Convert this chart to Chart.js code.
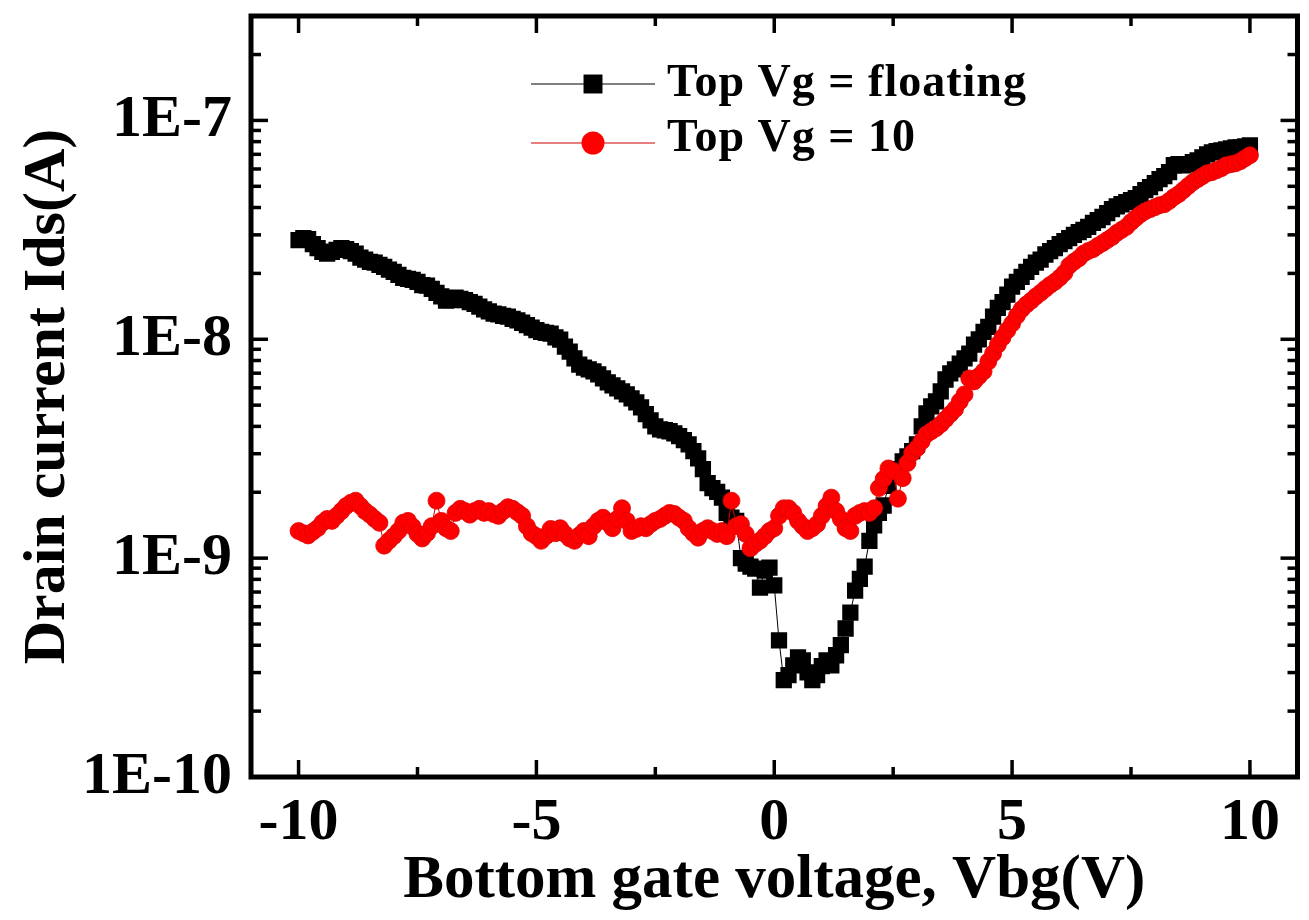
<!DOCTYPE html>
<html>
<head>
<meta charset="utf-8">
<script src="https://cdn.jsdelivr.net/npm/chart.js@4/dist/chart.umd.min.js"></script>
<style>
  html, body { margin: 0; padding: 0; background: #fff; }
  canvas { display: block; }
</style>
</head>
<body>
<canvas id="c" width="1309" height="920"></canvas>
<script>
// Bottom gate sweep (V)
const vbg = [
  -10,-9.9,-9.8,-9.7,-9.6,-9.5,-9.4,-9.3,-9.2,-9.1,
  -9,-8.9,-8.8,-8.7,-8.6,-8.5,-8.4,-8.3,-8.2,-8.1,
  -8,-7.9,-7.8,-7.7,-7.6,-7.5,-7.4,-7.3,-7.2,-7.1,
  -7,-6.9,-6.8,-6.7,-6.6,-6.5,-6.4,-6.3,-6.2,-6.1,
  -6,-5.9,-5.8,-5.7,-5.6,-5.5,-5.4,-5.3,-5.2,-5.1,
  -5,-4.9,-4.8,-4.7,-4.6,-4.5,-4.4,-4.3,-4.2,-4.1,
  -4,-3.9,-3.8,-3.7,-3.6,-3.5,-3.4,-3.3,-3.2,-3.1,
  -3,-2.9,-2.8,-2.7,-2.6,-2.5,-2.4,-2.3,-2.2,-2.1,
  -2,-1.9,-1.8,-1.7,-1.6,-1.5,-1.4,-1.3,-1.2,-1.1,
  -1,-0.9,-0.8,-0.7,-0.6,-0.5,-0.4,-0.3,-0.2,-0.1,
  0,0.1,0.2,0.3,0.4,0.5,0.6,0.7,0.8,0.9,
  1,1.1,1.2,1.3,1.4,1.5,1.6,1.7,1.8,1.9,
  2,2.1,2.2,2.3,2.4,2.5,2.6,2.7,2.8,2.9,
  3,3.1,3.2,3.3,3.4,3.5,3.6,3.7,3.8,3.9,
  4,4.1,4.2,4.3,4.4,4.5,4.6,4.7,4.8,4.9,
  5,5.1,5.2,5.3,5.4,5.5,5.6,5.7,5.8,5.9,
  6,6.1,6.2,6.3,6.4,6.5,6.6,6.7,6.8,6.9,
  7,7.1,7.2,7.3,7.4,7.5,7.6,7.7,7.8,7.9,
  8,8.1,8.2,8.3,8.4,8.5,8.6,8.7,8.8,8.9,
  9,9.1,9.2,9.3,9.4,9.5,9.6,9.7,9.8,9.9,
  10
];

// Drain current (A), top gate left floating
const idsFloating = [
  2.84e-8,2.90e-8,2.87e-8,2.72e-8,2.61e-8,2.51e-8,2.46e-8,2.51e-8,2.56e-8,2.61e-8,
  2.58e-8,2.53e-8,2.46e-8,2.36e-8,2.31e-8,2.26e-8,2.24e-8,2.19e-8,2.14e-8,2.08e-8,
  2.03e-8,1.97e-8,1.91e-8,1.89e-8,1.87e-8,1.83e-8,1.77e-8,1.76e-8,1.70e-8,1.63e-8,
  1.57e-8,1.50e-8,1.51e-8,1.55e-8,1.53e-8,1.51e-8,1.48e-8,1.45e-8,1.41e-8,1.37e-8,
  1.34e-8,1.31e-8,1.30e-8,1.28e-8,1.27e-8,1.24e-8,1.22e-8,1.19e-8,1.16e-8,1.13e-8,
  1.10e-8,1.08e-8,1.07e-8,1.06e-8,1.02e-8,9.97e-9,9.26e-9,8.79e-9,8.17e-9,7.66e-9,
  7.43e-9,7.28e-9,7.13e-9,6.91e-9,6.62e-9,6.35e-9,6.16e-9,5.97e-9,5.78e-9,5.60e-9,
  5.37e-9,5.15e-9,4.89e-9,4.55e-9,4.26e-9,4.00e-9,3.88e-9,3.84e-9,3.80e-9,3.72e-9,
  3.61e-9,3.46e-9,3.31e-9,3.08e-9,2.86e-9,2.55e-9,2.20e-9,2.09e-9,2.01e-9,1.89e-9,
  1.61e-9,1.53e-9,1.48e-9,1.00e-9,9.43e-10,9.15e-10,8.96e-10,7.33e-10,8.77e-10,9.05e-10,
  7.50e-10,4.21e-10,2.77e-10,2.92e-10,3.24e-10,3.52e-10,3.41e-10,3.01e-10,2.77e-10,2.92e-10,
  3.21e-10,3.41e-10,3.24e-10,3.60e-10,4.00e-10,4.77e-10,5.64e-10,7.11e-10,8.05e-10,9.15e-10,
  1.20e-9,1.41e-9,1.61e-9,1.74e-9,2.14e-9,2.38e-9,2.55e-9,2.77e-9,2.92e-9,3.08e-9,
  3.31e-9,4.00e-9,4.59e-9,4.94e-9,5.20e-9,5.78e-9,6.55e-9,6.98e-9,7.28e-9,7.75e-9,
  8.17e-9,8.61e-9,9.45e-9,1.00e-8,1.08e-8,1.14e-8,1.27e-8,1.39e-8,1.48e-8,1.60e-8,
  1.74e-8,1.83e-8,1.93e-8,2.03e-8,2.14e-8,2.24e-8,2.31e-8,2.44e-8,2.53e-8,2.61e-8,
  2.72e-8,2.81e-8,2.90e-8,3.00e-8,3.09e-8,3.16e-8,3.26e-8,3.40e-8,3.50e-8,3.62e-8,
  3.77e-8,3.93e-8,4.05e-8,4.14e-8,4.23e-8,4.32e-8,4.41e-8,4.60e-8,4.80e-8,4.96e-8,
  5.17e-8,5.39e-8,5.56e-8,5.80e-8,6.24e-8,6.31e-8,6.24e-8,6.31e-8,6.44e-8,6.57e-8,
  6.78e-8,6.99e-8,7.15e-8,7.23e-8,7.30e-8,7.38e-8,7.46e-8,7.53e-8,7.53e-8,7.61e-8,
  7.69e-8
];

// Drain current (A), top gate held at 10 V
const idsTopVg10 = [
  1.33e-9,1.30e-9,1.27e-9,1.32e-9,1.37e-9,1.45e-9,1.51e-9,1.48e-9,1.56e-9,1.64e-9,
  1.73e-9,1.79e-9,1.83e-9,1.73e-9,1.64e-9,1.58e-9,1.51e-9,1.45e-9,1.14e-9,1.20e-9,
  1.26e-9,1.33e-9,1.45e-9,1.48e-9,1.39e-9,1.29e-9,1.23e-9,1.30e-9,1.40e-9,1.83e-9,
  1.48e-9,1.37e-9,1.33e-9,1.61e-9,1.68e-9,1.64e-9,1.58e-9,1.64e-9,1.68e-9,1.61e-9,
  1.64e-9,1.59e-9,1.56e-9,1.64e-9,1.71e-9,1.68e-9,1.62e-9,1.56e-9,1.40e-9,1.30e-9,
  1.26e-9,1.20e-9,1.26e-9,1.36e-9,1.30e-9,1.37e-9,1.29e-9,1.23e-9,1.20e-9,1.27e-9,
  1.33e-9,1.26e-9,1.40e-9,1.48e-9,1.53e-9,1.45e-9,1.37e-9,1.51e-9,1.69e-9,1.48e-9,
  1.33e-9,1.36e-9,1.40e-9,1.37e-9,1.43e-9,1.48e-9,1.51e-9,1.56e-9,1.61e-9,1.59e-9,
  1.53e-9,1.48e-9,1.37e-9,1.30e-9,1.24e-9,1.33e-9,1.37e-9,1.33e-9,1.29e-9,1.33e-9,
  1.26e-9,1.83e-9,1.40e-9,1.43e-9,1.29e-9,1.11e-9,1.16e-9,1.20e-9,1.26e-9,1.33e-9,
  1.37e-9,1.56e-9,1.69e-9,1.69e-9,1.61e-9,1.48e-9,1.40e-9,1.33e-9,1.37e-9,1.43e-9,
  1.56e-9,1.73e-9,1.89e-9,1.64e-9,1.51e-9,1.37e-9,1.33e-9,1.56e-9,1.61e-9,1.64e-9,
  1.61e-9,1.69e-9,2.09e-9,2.30e-9,2.57e-9,2.50e-9,1.87e-9,2.32e-9,2.72e-9,3.02e-9,
  3.18e-9,3.42e-9,3.68e-9,3.80e-9,3.92e-9,4.09e-9,4.31e-9,4.55e-9,4.79e-9,5.20e-9,
  5.60e-9,6.62e-9,6.42e-9,6.77e-9,7.13e-9,7.91e-9,8.61e-9,9.45e-9,1.02e-8,1.10e-8,
  1.18e-8,1.28e-8,1.37e-8,1.44e-8,1.50e-8,1.57e-8,1.63e-8,1.70e-8,1.77e-8,1.83e-8,
  1.91e-8,2.01e-8,2.17e-8,2.26e-8,2.34e-8,2.46e-8,2.53e-8,2.58e-8,2.67e-8,2.75e-8,
  2.84e-8,2.93e-8,3.06e-8,3.16e-8,3.26e-8,3.43e-8,3.58e-8,3.73e-8,3.85e-8,3.93e-8,
  4.01e-8,4.10e-8,4.14e-8,4.28e-8,4.46e-8,4.60e-8,4.80e-8,5.01e-8,5.22e-8,5.39e-8,
  5.56e-8,5.74e-8,5.80e-8,5.92e-8,6.05e-8,6.24e-8,6.31e-8,6.37e-8,6.51e-8,6.72e-8,
  6.93e-8
];

const seriesLabels = ['Top Vg = floating', 'Top Vg = 10'];

// Axis ticks
const xTickValues = [-10, -5, 0, 5, 10];
const xMinorValues = [-7.5, -2.5, 2.5, 7.5];
const yTickValues = [1e-10, 1e-9, 1e-8, 1e-7];
const yTickLabels = ['1E-10', '1E-9', '1E-8', '1E-7'];

const FONT = "'Liberation Serif', 'Times New Roman', serif";

// minor log ticks 2..9 in every decade up to the top of the axis
const yMinorValues = [];
for (const d of yTickValues) {
  for (let m = 2; m <= 9; m++) {
    const v = +(m * d).toPrecision(3);
    if (v <= 3e-7) yMinorValues.push(v);
  }
}

const toPoints = ys => vbg.map((x, i) => ({ x, y: ys[i] }));

// Boxed frame with inward ticks on all four sides
const framePlugin = {
  id: 'frame',
  afterDatasetsDraw(chart) {
    const { ctx, chartArea: a, scales: { x, y } } = chart;
    ctx.save();
    ctx.strokeStyle = '#000';
    ctx.lineCap = 'butt';
    const seg = (x1, y1, x2, y2) => { ctx.beginPath(); ctx.moveTo(x1, y1); ctx.lineTo(x2, y2); ctx.stroke(); };
    ctx.lineWidth = 3.5;
    const MAJ = 17, MIN = 10;
    xTickValues.forEach(v => { const p = x.getPixelForValue(v); seg(p, a.bottom, p, a.bottom - MAJ); seg(p, a.top, p, a.top + MAJ); });
    xMinorValues.forEach(v => { const p = x.getPixelForValue(v); seg(p, a.bottom, p, a.bottom - MIN); seg(p, a.top, p, a.top + MIN); });
    yTickValues.forEach(v => { const p = y.getPixelForValue(v); seg(a.left, p, a.left + MAJ, p); seg(a.right, p, a.right - MAJ, p); });
    yMinorValues.forEach(v => { const p = y.getPixelForValue(v); seg(a.left, p, a.left + MIN, p); seg(a.right, p, a.right - MIN, p); });
    ctx.lineWidth = 5;
    ctx.strokeRect(a.left, a.top, a.right - a.left, a.bottom - a.top);
    ctx.restore();
  }
};

// Legend inside the plot: line + marker + label for each series
const legendPlugin = {
  id: 'innerLegend',
  afterDraw(chart) {
    const ctx = chart.ctx;
    const rows = [
      { y: 84, ty: 84, r: 13.4 },
      { y: 143, ty: 139, r: 11.5 }
    ];
    ctx.save();
    ctx.font = 'bold 46px ' + FONT;
    ctx.letterSpacing = '0px';
    const w0 = ctx.measureText(seriesLabels[0]).width;
    const spacing = Math.max(0, (360 - w0) / seriesLabels[0].length);
    chart.data.datasets.forEach((ds, i) => {
      const row = rows[i];
      ctx.strokeStyle = ds.borderColor;
      ctx.lineWidth = 1.2;
      ctx.beginPath(); ctx.moveTo(531, row.y); ctx.lineTo(655, row.y); ctx.stroke();
      ctx.fillStyle = ds.pointBackgroundColor;
      ctx.strokeStyle = ds.pointBackgroundColor;
      Chart.helpers.drawPoint(ctx, { pointStyle: ds.pointStyle, radius: row.r, borderWidth: 0, rotation: 0 }, 593, row.y);
      ctx.fillStyle = '#000';
      ctx.textAlign = 'left';
      ctx.textBaseline = 'middle';
      ctx.letterSpacing = spacing.toFixed(2) + 'px';
      ctx.fillText(seriesLabels[i], 667, row.ty);
    });
    ctx.restore();
  }
};

// keep the plot box fixed: no extra room for half-labels at the ends of the axes
const noOverhang = s => { s.paddingTop = 0; s.paddingBottom = 0; s.paddingLeft = 0; s.paddingRight = 0; };

new Chart(document.getElementById('c'), {
  type: 'scatter',
  data: {
    datasets: [
      {
        label: seriesLabels[0],
        data: toPoints(idsFloating),
        showLine: true,
        borderColor: '#000',
        borderWidth: 1,
        pointStyle: 'rect',
        pointRadius: 11.5,
        pointBackgroundColor: '#000',
        pointBorderWidth: 0,
        order: 2
      },
      {
        label: seriesLabels[1],
        data: toPoints(idsTopVg10),
        showLine: true,
        borderColor: '#d00000',
        borderWidth: 1,
        pointStyle: 'circle',
        pointRadius: 8.5,
        pointBackgroundColor: '#ff0000',
        pointBorderColor: '#e00000',
        pointBorderWidth: 0.8,
        order: 1
      }
    ]
  },
  options: {
    responsive: false,
    animation: false,
    layout: { padding: { top: 16, right: 6, left: 0, bottom: 0 } },
    plugins: { legend: { display: false }, tooltip: { enabled: false } },
    scales: {
      x: {
        type: 'linear',
        min: -11, max: 11,
        grid: { display: false, drawTicks: false },
        border: { display: false },
        afterBuildTicks: s => { s.ticks = xTickValues.map(v => ({ value: v })); },
        afterFit: s => { s.height = 143; noOverhang(s); },
        ticks: {
          padding: 10, color: '#000', maxRotation: 0, autoSkip: false,
          font: { family: FONT, weight: 'bold', size: 60, lineHeight: 1.2 },
          callback: v => String(v)
        },
        title: {
          display: true, text: 'Bottom gate voltage, Vbg(V)', color: '#000',
          font: { family: FONT, weight: 'bold', size: 61, lineHeight: 1.2 },
          padding: { top: 0, bottom: 2 }
        }
      },
      y: {
        type: 'logarithmic',
        min: 1e-10, max: 3e-7,
        grid: { display: false, drawTicks: false },
        border: { display: false },
        afterBuildTicks: s => { s.ticks = yTickValues.map(v => ({ value: v })); },
        afterFit: s => { s.width = 251; noOverhang(s); },
        ticks: {
          padding: 19, color: '#000', autoSkip: false,
          font: { family: FONT, weight: 'bold', size: 60, lineHeight: 1.2 },
          callback: v => { const i = yTickValues.indexOf(v); return i >= 0 ? yTickLabels[i] : ''; }
        },
        title: {
          display: true, text: 'Drain current Ids(A)', color: '#000',
          font: { family: FONT, weight: 'bold', size: 60, lineHeight: 1.2 },
          padding: { top: 12, bottom: 0 }
        }
      }
    }
  },
  plugins: [framePlugin, legendPlugin]
});
</script>
</body>
</html>
